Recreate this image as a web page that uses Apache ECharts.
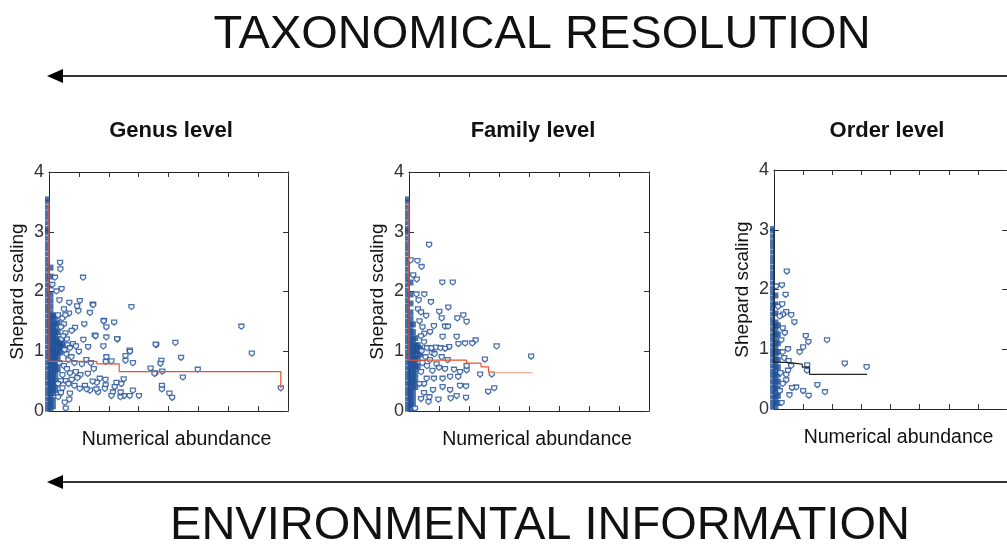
<!DOCTYPE html>
<html>
<head>
<meta charset="utf-8">
<script src="https://cdn.jsdelivr.net/npm/echarts@6/dist/echarts.min.js"></script>
<style>
  html, body { margin: 0; padding: 0; background: #fff; }
  #chart { width: 1007px; height: 552px; }
</style>
</head>
<body>
<div id="chart"></div>
<script>
// panel titles and axis texts
const panelTitles = ["Genus level", "Family level", "Order level"];
const yTicks = [0, 1, 2, 3, 4];

// saturated column of points sitting on the y axis (x ~ 0)
const columnY = [0.03,0.11,0.2,0.29,0.37,0.46,0.55,0.63,0.72,0.81,0.9,0.98,1.07,1.16,1.24,1.33,1.42,1.5,1.59,1.68,1.76,1.85,1.94,2.02,2.11,2.2,2.28,2.37,2.46,2.54,2.63,2.72,2.8,2.89,2.98,3.02,3.06,3.15,3.24,3.32,3.41,3.5,3.55];
const columnTop = [3.55, 3.55, 3.02];

// dense mass next to the axis (drawn filled)
const genusDense = [
  [0.05,0.05],[0.05,0.15],[0.05,0.25],[0.05,0.35],[0.05,0.45],[0.05,0.55],[0.05,0.65],[0.05,0.75],[0.05,0.85],[0.05,0.95],[0.05,1.05],[0.05,1.15],[0.05,1.25],[0.05,1.35],[0.05,1.45],[0.05,1.55],[0.05,1.65],[0.05,1.75],[0.05,1.85],[0.05,1.95],[0.05,2.1],[0.05,2.25],[0.05,2.4],
  [0.13,0.08],[0.13,0.18],[0.13,0.3],[0.13,0.4],[0.13,0.5],[0.13,0.6],[0.13,0.7],[0.13,0.8],[0.13,0.9],[0.13,1.0],[0.13,1.1],[0.13,1.2],[0.13,1.3],[0.13,1.4],[0.13,1.5],[0.13,1.6],
  [0.21,0.35],[0.21,0.45],[0.21,0.55],[0.21,0.65],[0.21,0.75],[0.21,0.85],[0.21,0.95],[0.21,1.05],[0.21,1.15],[0.21,1.25],[0.21,1.35],[0.21,1.45],[0.21,1.58],
  [0.29,0.7],[0.29,0.8],[0.29,0.9],[0.29,1.0],[0.29,1.1],[0.29,1.2],[0.29,1.32],[0.29,1.48],
  [0.37,0.98],[0.37,1.08],[0.37,1.15],[0.45,1.06],[0.45,1.13]
];
const familyDense = [
  [0.05,0.05],[0.05,0.15],[0.05,0.25],[0.05,0.35],[0.05,0.45],[0.05,0.55],[0.05,0.65],[0.05,0.75],[0.05,0.85],[0.05,0.95],[0.05,1.05],[0.05,1.15],[0.05,1.25],[0.05,1.35],[0.05,1.45],[0.05,1.55],[0.05,1.65],[0.05,1.8],[0.05,1.95],[0.05,2.15],
  [0.13,0.1],[0.13,0.2],[0.13,0.3],[0.13,0.4],[0.13,0.5],[0.13,0.6],[0.13,0.7],[0.13,0.8],[0.13,0.9],[0.13,1.0],[0.13,1.1],[0.13,1.2],[0.13,1.32],[0.13,1.45],
  [0.21,0.4],[0.21,0.5],[0.21,0.6],[0.21,0.7],[0.21,0.8],[0.21,0.9],[0.21,1.0],[0.21,1.1],[0.21,1.22],
  [0.29,0.75],[0.29,0.88],[0.29,1.0],[0.29,1.1],[0.37,0.95],[0.37,1.05]
];
const orderDense = [
  [0.05,0.05],[0.05,0.15],[0.05,0.25],[0.05,0.35],[0.05,0.45],[0.05,0.55],[0.05,0.65],[0.05,0.75],[0.05,0.85],[0.05,0.95],[0.05,1.05],[0.05,1.15],[0.05,1.25],[0.05,1.35],[0.05,1.45],[0.05,1.6],[0.05,1.75],[0.05,1.9],
  [0.13,0.1],[0.13,0.22],[0.13,0.34],[0.13,0.46],[0.13,0.58],[0.13,0.7],[0.13,0.82],[0.13,0.95],[0.13,1.1],[0.13,1.25],[0.13,1.4]
];

// scattered points (open markers)
const genusPoints = [
  [0.37,2.48],[0.38,2.37],[0.2,2.23],[1.14,2.23],[0.42,2.04],[0.11,2.11],[0.25,2.0],[0.68,1.81],[1.03,1.84],[1.46,1.78],[0.94,1.75],[2.76,1.74],[0.67,1.63],[0.98,1.67],[1.37,1.64],[1.84,1.51],[2.18,1.48],[1.18,1.45],[1.92,1.4],[0.87,1.39],[0.76,1.34],[1.53,1.26],[1.92,1.23],[2.29,1.2],[1.15,1.19],[1.82,1.08],[2.7,1.01],[3.59,1.1],[1.31,1.07],[1.0,0.99],[1.92,0.9],[2.09,0.83],[2.56,0.92],[2.81,0.8],[3.4,0.71],[3.56,0.63],[3.76,0.84],[3.78,0.42],
  [0.7,0.63],[0.76,0.52],[1.2,0.42],[1.6,0.47],[1.9,0.43],[2.26,0.47],[2.42,0.45],[1.87,0.37],[1.64,0.31],[1.37,0.34],[1.03,0.37],[2.14,0.31],[2.4,0.31],[2.81,0.34],[2.7,0.25],[3.01,0.25],[0.7,0.29],[0.31,0.23],[0.53,0.14],
  [6.44,1.41],[6.79,0.96],[4.23,1.14],[3.57,1.11],[4.42,0.89],[3.73,0.79],[3.79,0.66],[3.53,0.62],[4.98,0.69],[4.48,0.56],[3.78,0.36],[4.03,0.29],[4.12,0.22],[7.76,0.38],[2.71,0.99],[2.56,0.84],[2.28,1.2],[1.83,1.5],[1.48,1.77],[1.56,1.25],
  [2.5,0.53],[2.51,0.25],[2.39,0.23],[2.09,0.25],[2.2,0.4],[1.89,0.52],[1.9,0.82],[1.7,0.54],[1.59,0.36],[1.46,0.49],[1.26,0.36],[0.68,0.19],[0.56,0.04],
  [0.45,1.55],[0.5,1.45],[0.55,1.3],[0.6,1.2],[0.62,1.1],[0.7,1.05],[0.8,1.12],[0.9,1.08],[0.58,0.95],[0.65,0.85],[0.75,0.9],[0.85,0.8],[1.1,0.78],[1.25,0.85],[1.4,0.8],[0.5,0.75],[0.6,0.7],[0.9,0.65],[1.05,0.6],[0.45,0.6],[0.55,0.5],[0.65,0.45],[0.85,0.42],[0.45,0.38],[0.4,0.3],[0.95,0.55],[1.3,0.62],[1.5,0.7],[0.5,1.7],[0.35,1.85],[0.3,1.6],[0.42,1.2],[0.52,1.02],
  [0.4,1.4],[0.48,1.25],[0.55,1.6],[0.35,0.8],[0.4,0.5],[0.3,0.45]
];
const familyPoints = [
  [0.67,2.78],[0.05,2.52],[0.28,2.51],[0.42,2.41],[0.14,2.27],[0.26,2.2],[1.11,2.15],[1.46,2.15],[0.51,1.95],[0.32,1.85],[0.73,1.82],[1.31,1.73],[1.01,1.66],[1.09,1.55],[1.61,1.55],[1.81,1.6],[1.92,1.49],[0.57,1.59],[0.83,1.42],[1.2,1.41],[1.3,1.41],[0.51,1.29],[0.7,1.32],[1.12,1.24],[1.59,1.24],[2.22,1.18],[2.11,1.13],[1.87,1.13],[1.65,1.12],[1.34,1.07],[2.92,1.08],[4.07,0.91],
  [2.53,0.86],[2.76,0.61],[2.37,0.61],[1.92,0.68],[1.7,0.65],[1.92,0.75],[1.5,0.69],[1.29,0.85],[1.09,0.9],[0.76,0.97],[0.92,0.78],[0.78,0.67],[0.59,0.54],[0.83,0.54],[1.12,0.54],[1.37,0.57],[1.64,0.57],[1.9,0.41],[1.7,0.42],[2.64,0.32],[2.84,0.38],[1.37,0.35],[1.59,0.25],[1.39,0.21],[1.9,0.22],[0.98,0.19],[0.68,0.23],[0.2,0.04],[0.5,0.45],[1.12,0.4],
  [0.6,1.05],[0.75,1.05],[0.9,1.06],[1.05,1.05],[1.2,1.04],
  [0.35,1.5],[0.45,1.4],[0.4,1.25],[0.5,1.15],[0.42,1.0],[0.55,0.9],[0.45,0.8],[0.6,0.75],[0.4,0.65],[0.7,0.85],[0.85,0.95],[1.0,0.72],[1.2,0.7],[0.35,0.45],[0.5,0.3],[0.4,0.2],[0.8,0.35],[0.65,0.15],[0.3,1.7],[0.4,1.65],[0.25,1.95]
];
const orderPoints = [
  [0.44,2.3],[0.27,2.07],[0.4,1.91],[0.07,2.05],[0.14,1.71],[0.42,1.62],[0.59,1.57],[0.7,1.45],[0.31,1.58],[0.37,1.27],[1.09,1.22],[1.18,1.12],[1.82,1.15],[0.48,1.0],[1.0,1.03],[0.88,0.95],[2.43,0.76],[3.18,0.7],[1.14,0.73],[1.13,0.64],[0.48,0.64],[0.59,0.72],[1.49,0.4],[0.76,0.36],[0.62,0.35],[1.0,0.3],[1.19,0.22],[1.75,0.28],[0.53,0.23],[0.26,0.1],[0.42,0.48],[0.42,0.57],
  [0.3,1.35],[0.25,1.15],[0.35,0.85],[0.3,0.95],[0.5,0.8],[0.22,0.6],[0.3,0.42],[0.2,0.3],[0.28,1.75],[0.2,1.55]
];

// monotone step fits
const genusFit = [[0.0,3.5],[0.0,0.83],[1.6,0.83],[1.6,0.79],[2.35,0.79],[2.35,0.66],[7.76,0.66],[7.76,0.38]];
const familyFit = [[0.0,3.5],[0.0,0.85],[1.92,0.85],[1.92,0.8],[2.4,0.8],[2.4,0.74],[2.65,0.74],[2.65,0.64]];
const familyFitTail = [[2.65,0.64],[4.12,0.64]];
const orderFit = [[0.0,3.0],[0.0,0.78],[0.45,0.78],[0.45,0.75],[0.97,0.75],[0.97,0.7],[1.22,0.7],[1.22,0.58],[3.2,0.58]];

const grids = [
  { left: 49, top: 172, width: 239, height: 239 },
  { left: 409, top: 172, width: 240, height: 239 },
  { left: 774, top: 170, width: 240, height: 239 }
];

const BLUE = "#1f4f96";
const RED = "#e8512a";
const FONT = "Liberation Sans, Arial, sans-serif";
const shield = "path://M0 0L10 0L10 6L5 10L0 6Z";

const xAxes = [];
const yAxes = [];
grids.forEach((g, i) => {
  const tick = { show: true, inside: true, length: 5, lineStyle: { color: "#333" } };
  const line = { show: true, onZero: false, lineStyle: { color: "#222", width: 1 } };
  xAxes.push({
    gridIndex: i, type: "value", min: 0, max: 8, interval: 1, position: "bottom",
    axisLine: line, axisTick: tick, axisLabel: { show: false }, splitLine: { show: false },
    name: "Numerical abundance", nameLocation: "middle", nameGap: 19,
    nameTextStyle: { fontSize: 19.5, color: "#111", fontFamily: FONT, padding: [0, 0, 0, 16] }
  });
  xAxes.push({
    gridIndex: i, type: "value", min: 0, max: 8, interval: 1, position: "top",
    axisLine: line, axisTick: tick, axisLabel: { show: false }, splitLine: { show: false }
  });
  yAxes.push({
    gridIndex: i, type: "value", min: 0, max: 4, interval: 1, position: "left",
    axisLine: line, axisTick: tick, splitLine: { show: false },
    axisLabel: { show: true, margin: 5, fontSize: 18, color: "#333", fontFamily: FONT,
      formatter: (v) => (yTicks.includes(v) ? String(v) : "") },
    name: "Shepard scaling", nameLocation: "middle", nameGap: 22,
    nameTextStyle: { fontSize: 19, color: "#111", fontFamily: FONT }
  });
  yAxes.push({
    gridIndex: i, type: "value", min: 0, max: 4, interval: 1, position: "right",
    axisLine: line, axisTick: tick, axisLabel: { show: false }, splitLine: { show: false }
  });
});

const dense = [genusDense, familyDense, orderDense];
const points = [genusPoints, familyPoints, orderPoints];
const series = [];
[0, 1, 2].forEach((i) => {
  const ax = { xAxisIndex: 2 * i, yAxisIndex: 2 * i, clip: false, silent: true };
  series.push({
    type: "scatter", ...ax, symbol: "square", symbolSize: 5,
    itemStyle: { color: BLUE },
    data: columnY.filter((y) => y <= columnTop[i]).map((y) => [-0.05, y])
  });
  series.push({
    type: "scatter", ...ax, symbol: "square", symbolSize: 6,
    itemStyle: { color: BLUE }, data: dense[i]
  });
  series.push({
    type: "scatter", ...ax, symbol: shield, symbolSize: 5,
    itemStyle: { color: "#fff", borderColor: "#1f4f96", borderWidth: 1.3 }, data: points[i]
  });
});
const lineStyle = (c) => ({ type: "line", showSymbol: false, silent: true, clip: false, lineStyle: { color: c, width: 1.2 }, z: 5 });
series.push({ ...lineStyle(RED), xAxisIndex: 0, yAxisIndex: 0, data: genusFit });
series.push({ ...lineStyle(RED), xAxisIndex: 2, yAxisIndex: 2, data: familyFit });
series.push({ ...lineStyle("#f0987e"), xAxisIndex: 2, yAxisIndex: 2, data: familyFitTail });
series.push({ ...lineStyle("#222"), xAxisIndex: 4, yAxisIndex: 4, data: orderFit });

const titleCenters = [166, 528, 882];
const titles = panelTitles.map((t, i) => ({
  text: t, left: titleCenters[i], top: 115, textAlign: "center",
  textStyle: { fontSize: 22, fontWeight: "bold", color: "#111", fontFamily: FONT }
}));
titles.push({
  text: "TAXONOMICAL RESOLUTION", left: 537, top: 7, textAlign: "center",
  textStyle: { fontSize: 47, fontWeight: "normal", color: "#111", fontFamily: FONT }
});
titles.push({
  text: "ENVIRONMENTAL INFORMATION", left: 535, top: 498, textAlign: "center",
  textStyle: { fontSize: 47, fontWeight: "normal", color: "#111", fontFamily: FONT }
});

function arrow(y) {
  return [
    { type: "line", shape: { x1: 60, y1: y, x2: 1007, y2: y }, style: { stroke: "#333", lineWidth: 2 } },
    { type: "polygon", shape: { points: [[47, y], [63, y - 7], [63, y + 7]] }, style: { fill: "#000" } }
  ];
}

const chart = echarts.init(document.getElementById("chart"), null, { renderer: "canvas" });
chart.setOption({
  animation: false,
  backgroundColor: "#fff",
  title: titles,
  grid: grids,
  xAxis: xAxes,
  yAxis: yAxes,
  series: series,
  graphic: [...arrow(76), ...arrow(482)]
});
</script>
</body>
</html>
